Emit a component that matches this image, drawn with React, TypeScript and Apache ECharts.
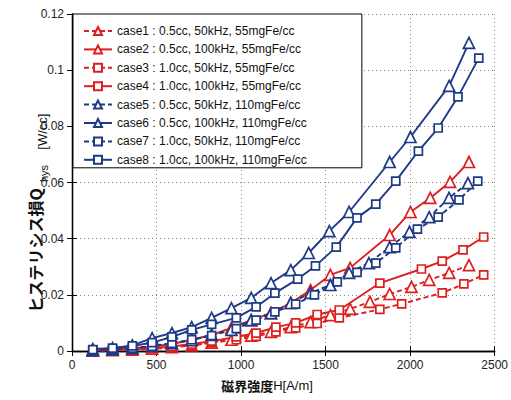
import React, { useEffect, useRef } from "react";
import * as echarts from "echarts";

const H_CASE1 = [123, 240, 357, 474, 591, 708, 826, 943, 1060, 1177, 1294, 1411, 1528, 1645, 1762, 1879, 2008, 2113, 2231, 2348];
const Q_CASE1 = [0.0001, 0.0003, 0.0005, 0.0008, 0.0014, 0.002, 0.003, 0.004, 0.0055, 0.0068, 0.0085, 0.0103, 0.0128, 0.015, 0.0175, 0.0203, 0.0228, 0.0253, 0.0278, 0.0306];

const H_CASE2 = [123, 240, 357, 474, 591, 708, 826, 943, 1060, 1177, 1294, 1411, 1528, 1645, 1879, 2002, 2119, 2236, 2348];
const Q_CASE2 = [0.0003, 0.0005, 0.001, 0.0015, 0.0025, 0.004, 0.0057, 0.0082, 0.011, 0.0135, 0.0171, 0.0217, 0.0271, 0.0296, 0.0413, 0.0495, 0.0545, 0.0602, 0.0673];

const H_CASE3 = [123, 240, 357, 474, 591, 708, 826, 972, 1089, 1206, 1323, 1450, 1581, 1821, 1950, 2190, 2318, 2435];
const Q_CASE3 = [0.0001, 0.0003, 0.0005, 0.0008, 0.0012, 0.002, 0.003, 0.004, 0.0052, 0.0068, 0.0082, 0.0098, 0.0118, 0.0148, 0.0168, 0.0207, 0.0239, 0.0271];

const H_CASE4 = [123, 240, 357, 474, 591, 708, 826, 972, 1089, 1206, 1323, 1450, 1581, 1821, 2067, 2190, 2313, 2435];
const Q_CASE4 = [0.0002, 0.0003, 0.0006, 0.001, 0.0016, 0.0025, 0.0035, 0.005, 0.0064, 0.0085, 0.01, 0.013, 0.0146, 0.0242, 0.0292, 0.032, 0.036, 0.0406];

const H_CASE5 = [123, 240, 357, 474, 591, 708, 826, 943, 1060, 1177, 1294, 1411, 1528, 1639, 1756, 1879, 1996, 2113, 2230, 2342];
const Q_CASE5 = [0.0003, 0.0006, 0.001, 0.0018, 0.0028, 0.0039, 0.0057, 0.0075, 0.011, 0.0135, 0.0171, 0.0207, 0.0235, 0.0278, 0.0313, 0.037, 0.0424, 0.0477, 0.0545, 0.0598];

const H_CASE6 = [123, 240, 357, 474, 591, 708, 826, 943, 1060, 1177, 1294, 1400, 1522, 1639, 1879, 2002, 2231, 2348];
const Q_CASE6 = [0.0007, 0.001, 0.002, 0.0046, 0.0064, 0.0085, 0.0118, 0.0153, 0.0189, 0.0242, 0.0288, 0.0349, 0.0427, 0.0495, 0.0673, 0.0762, 0.0944, 0.1097];

const H_CASE7 = [123, 240, 357, 474, 591, 708, 826, 972, 1089, 1200, 1323, 1434, 1569, 1686, 1797, 1915, 2043, 2166, 2289, 2400];
const Q_CASE7 = [0.0003, 0.0006, 0.001, 0.0017, 0.0027, 0.004, 0.0055, 0.008, 0.011, 0.0139, 0.0167, 0.02, 0.0246, 0.028, 0.0313, 0.0367, 0.0434, 0.0477, 0.0538, 0.0605];

const H_CASE8 = [123, 240, 357, 474, 591, 708, 826, 972, 1089, 1200, 1335, 1440, 1563, 1686, 1797, 1915, 2049, 2166, 2283, 2406];
const Q_CASE8 = [0.0005, 0.001, 0.0018, 0.003, 0.005, 0.0075, 0.0095, 0.0118, 0.0157, 0.0206, 0.0256, 0.0303, 0.037, 0.0474, 0.0523, 0.0605, 0.0712, 0.0794, 0.0905, 0.1043];

const CASE_NAMES = [
  "case1 : 0.5cc, 50kHz, 55mgFe/cc",
  "case2 : 0.5cc, 100kHz, 55mgFe/cc",
  "case3 : 1.0cc, 50kHz, 55mgFe/cc",
  "case4 : 1.0cc, 100kHz, 55mgFe/cc",
  "case5 : 0.5cc, 50kHz, 110mgFe/cc",
  "case6 : 0.5cc, 100kHz, 110mgFe/cc",
  "case7 : 1.0cc, 50kHz, 110mgFe/cc",
  "case8 : 1.0cc, 100kHz, 110mgFe/cc",
];

const X_MIN = 0;
const X_MAX = 2500;
const X_STEP = 500;
const Y_MIN = 0;
const Y_MAX = 0.12;
const Y_STEP = 0.02;

const RED = "#dd1f1f";
const BLUE = "#1c3a85";
const FONT = "'Liberation Sans', Arial, sans-serif";
const CJK = "'Noto Sans CJK JP', sans-serif";

const H_ALL = [H_CASE1, H_CASE2, H_CASE3, H_CASE4, H_CASE5, H_CASE6, H_CASE7, H_CASE8];
const Q_ALL = [Q_CASE1, Q_CASE2, Q_CASE3, Q_CASE4, Q_CASE5, Q_CASE6, Q_CASE7, Q_CASE8];

export default function App() {
  const ref = useRef<HTMLDivElement>(null);
  useEffect(() => {
    if (!ref.current) return;
    const chart = echarts.init(ref.current, undefined, { renderer: "svg" });

    const series = CASE_NAMES.map((name, i) => {
      const color = i < 4 ? RED : BLUE;
      const dashed = i % 2 === 0;
      const tri = Math.floor(i / 2) % 2 === 0;
      return {
        name,
        type: "line",
        xAxisIndex: 0,
        yAxisIndex: 0,
        data: H_ALL[i].map((h, k) => [h, Q_ALL[i][k]]),
        symbol: tri ? "triangle" : "rect",
        symbolSize: tri ? 11 : 8,
        showSymbol: true,
        lineStyle: { color, width: 1.9, type: dashed ? [5, 3] : "solid" },
        itemStyle: { color: "#fff", borderColor: color, borderWidth: 1.7 },
        z: 3,
      };
    });

    const axisCommonX = { type: "value", min: X_MIN, max: X_MAX, interval: X_STEP };
    const axisCommonY = { type: "value", min: Y_MIN, max: Y_MAX, interval: Y_STEP };
    const frameLine = { show: true, lineStyle: { color: "#000", width: 1.3 } };
    const innerTick = { show: true, inside: true, length: 5, lineStyle: { color: "#000" } };
    const gridLine = { show: true, lineStyle: { color: "#888", type: [1, 3], width: 1 } };

    chart.setOption({
      animation: false,
      backgroundColor: "#fff",
      grid: { left: 72, right: 11, top: 14, bottom: 49, containLabel: false },
      legend: {
        orient: "vertical",
        left: 73,
        top: 14,
        padding: [11, 55, 2, 10],
        itemWidth: 28,
        itemHeight: 10,
        itemGap: 6.4,
        backgroundColor: "#fff",
        borderColor: "#000",
        borderWidth: 1,
        textStyle: { fontSize: 12, fontFamily: FONT, color: "#111" },
        data: CASE_NAMES,
        z: 10,
      },
      xAxis: [
        {
          ...axisCommonX,
          position: "bottom",
          axisLine: frameLine,
          axisTick: innerTick,
          axisLabel: { fontSize: 12, fontFamily: FONT, color: "#222", margin: 8, formatter: (v: number) => String(v) },
          splitLine: gridLine,
        },
        {
          ...axisCommonX,
          position: "top",
          axisLine: frameLine,
          axisTick: innerTick,
          axisLabel: { show: false },
          splitLine: { show: false },
        },
      ],
      yAxis: [
        {
          ...axisCommonY,
          position: "left",
          axisLine: frameLine,
          axisTick: innerTick,
          axisLabel: { fontSize: 12, fontFamily: FONT, color: "#222", margin: 8 },
          splitLine: gridLine,
        },
        {
          ...axisCommonY,
          position: "right",
          axisLine: frameLine,
          axisTick: innerTick,
          axisLabel: { show: false },
          splitLine: { show: false },
        },
      ],
      graphic: [
        {
          type: "text",
          x: 267,
          y: 385,
          style: {
            text: "{a|磁界強度}{b|H[A/m]}",
            align: "center",
            verticalAlign: "middle",
            rich: {
              a: { fontFamily: CJK, fontWeight: "bold", fontSize: 13, fill: "#111" },
              b: { fontFamily: FONT, fontSize: 13, fill: "#111" },
            },
          },
        },
        {
          type: "text",
          x: 35,
          y: 213,
          rotation: Math.PI / 2,
          style: {
            text: "{a|ヒステリシス損Q}{b|  hys     }{c|[W/cc]}",
            align: "center",
            verticalAlign: "middle",
            rich: {
              a: { fontFamily: CJK, fontWeight: "bold", fontSize: 16, fill: "#111", lineHeight: 28, verticalAlign: "middle" },
              b: { fontFamily: FONT, fontSize: 11, fill: "#111", verticalAlign: "bottom", lineHeight: 28 },
              c: { fontFamily: FONT, fontSize: 13, fill: "#111", verticalAlign: "bottom", lineHeight: 28 },
            },
          },
        },
      ],
      series,
    });
    return () => chart.dispose();
  }, []);
  return <div ref={ref} style={{ width: 511, height: 400, position: "absolute", left: 0, top: 0 }} />;
}
